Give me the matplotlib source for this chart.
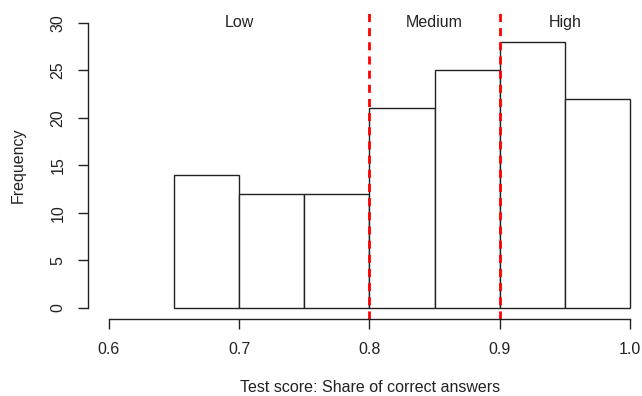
import numpy as np
import matplotlib
matplotlib.use("Agg")
import matplotlib.pyplot as plt

plt.rcParams['font.family'] = ['Liberation Sans', 'DejaVu Sans']

# histogram data
bin_edges = [0.65, 0.70, 0.75, 0.80, 0.85, 0.90, 0.95, 1.00]
counts = [14, 12, 12, 21, 25, 28, 22]
cutoffs = [0.8, 0.9]
group_labels = ["Low", "Medium", "High"]
group_pos = [0.7, 0.85, 0.95]
x_ticks = [0.6, 0.7, 0.8, 0.9, 1.0]
y_ticks = [0, 5, 10, 15, 20, 25, 30]

fs = 11.5
ink = '#222222'

fig = plt.figure(figsize=(6.42, 3.96), dpi=100)
ax = fig.add_axes([88/642, 1 - 319.1/396, (650.8 - 88)/642, (319.1 - 11.6)/396])

widths = np.diff(bin_edges)
ax.bar(bin_edges[:-1], counts, width=widths, align='edge',
       facecolor='white', edgecolor=ink, linewidth=1.0)

for c in cutoffs:
    ax.axvline(c, color='#ff0000', linewidth=2, linestyle=(0, (2.9, 2.2)))

for lab, xp in zip(group_labels, group_pos):
    ax.text(xp, 30, lab, ha='center', va='center', fontsize=fs, color=ink)

ax.set_xlim(0.584, 1.016)
ax.set_ylim(-1.2, 31.2)

for s in ['top', 'right']:
    ax.spines[s].set_visible(False)
ax.spines['left'].set_bounds(0, 30)
ax.spines['bottom'].set_bounds(0.6, 1.0)
for s in ['left', 'bottom']:
    ax.spines[s].set_color(ink)
    ax.spines[s].set_linewidth(1.0)

ax.set_xticks(x_ticks)
ax.set_xticklabels(["0.6", "0.7", "0.8", "0.9", "1.0"])
ax.set_yticks(y_ticks)
ax.set_yticklabels([str(v) for v in y_ticks], rotation=90, va='center')
ax.tick_params(axis='both', length=7.2, width=1.0, color=ink,
               labelsize=fs, labelcolor=ink)
ax.tick_params(axis='x', pad=9)
ax.tick_params(axis='y', pad=9)

fig.text(369.6/642, 1 - 388/396, "Test score: Share of correct answers",
         ha='center', va='center', fontsize=fs, color=ink)
fig.text(18/642, 1 - 165/396, "Frequency", rotation=90,
         ha='center', va='center', fontsize=fs, color=ink)

fig.savefig('out.png', dpi=100)
